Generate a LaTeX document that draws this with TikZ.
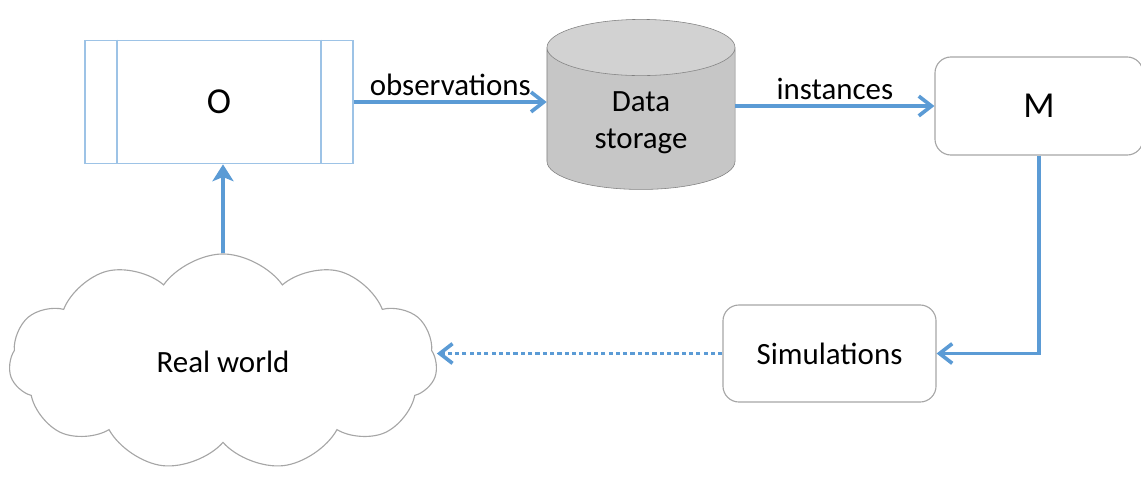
\documentclass[tikz,border=0pt]{standalone}
\usepackage{fontspec}
\setmainfont{Carlito}
\usetikzlibrary{shapes.geometric,shapes.symbols,arrows.meta}
\definecolor{lineblue}{HTML}{5B9BD5}
\definecolor{boxblue}{HTML}{9DC3E6}
\definecolor{edgegray}{HTML}{A6A6A6}
\tikzset{
    big-text/.style = {font=\fontsize{26}{30}\selectfont},
    small-text/.style = {font=\fontsize{22}{26}\selectfont},
    blue-box/.style = {draw=boxblue, line width=1.2pt, rectangle, minimum width=6.7cm, minimum height=3.075cm, big-text},
    round-box/.style = {draw=edgegray, line width=0.8pt, rectangle, rounded corners=0.4cm, small-text},
    data-cyl/.style = {cylinder, shape border rotate=90, aspect=0.55, draw=gray, cylinder uses custom fill, cylinder body fill=gray!45, cylinder end fill=gray!35, minimum width=4.7cm, minimum height=4.25cm, align=center, small-text},
    cloud-box/.style = {cloud, draw=edgegray, line width=0.8pt, cloud puffs=11, cloud puff arc=110, aspect=2, minimum width=10.7cm, minimum height=5.4cm, small-text},
    flow/.style = {draw=lineblue, line width=2.6pt, -{Straight Barb[length=9pt, width=14pt]}},
    up-flow/.style = {draw=lineblue, line width=2.6pt, -{Stealth[length=12pt, width=15pt, inset=3pt]}},
    dot-flow/.style = {flow, dash pattern=on 3pt off 2.2pt},
}

\begin{document}
\begin{tikzpicture}[x=0.025cm, y=-0.025cm]
\useasboundingbox (0,0) rectangle (1141,479);
\node[blue-box] (obs) at (219,102) {O};
\draw[boxblue, line width=1.2pt] ([xshift=0.825cm]obs.north west) -- ([xshift=0.825cm]obs.south west);
\draw[boxblue, line width=1.2pt] ([xshift=-0.825cm]obs.north east) -- ([xshift=-0.825cm]obs.south east);
\node[data-cyl] (store) at (641,123) {Data\\storage};
\node[round-box, big-text, minimum width=5.2cm, minimum height=2.45cm] (mod) at (1039,106) {M};
\node[round-box, minimum width=5.325cm, minimum height=2.425cm] (sim) at (829.5,353.5) {Simulations};
\node[cloud-box] (world) at (223,362) {Real world};

\draw[flow] (obs.east) -- node[above, small-text]{observations} (obs.east -| store.west);
\draw[flow] (store.east |- mod.west) -- node[above, small-text]{instances} (mod.west);
\draw[flow] (mod.south) |- (sim.east);
\draw[dot-flow] (sim.west) -- (sim.west -| world.east);
\draw[up-flow] (world.north) -- (world.north |- obs.south);
\end{tikzpicture}
\end{document}
